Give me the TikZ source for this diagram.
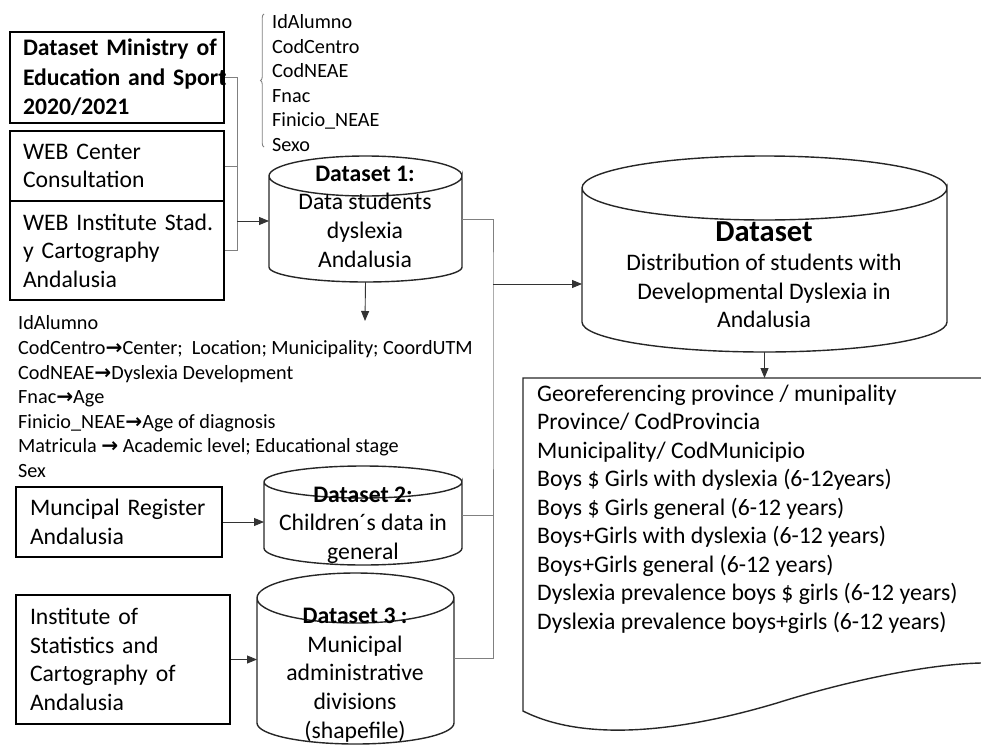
\documentclass[tikz,border=0pt]{standalone}
\usepackage{fontspec}
\setmainfont{Carlito}
\newfontfamily\arrowfont{DejaVu Sans}
\newcommand{\toarrow}{{\arrowfont\bfseries →}}
\usetikzlibrary{arrows.meta,decorations.pathreplacing}
\tikzset{
	srcbox/.style={draw=black, line width=1.6pt, align=left, inner xsep=13pt, inner ysep=0pt, font=\fontsize{23.7}{28.6}\selectfont},
	dbbody/.style={inner sep=0pt, outer sep=0pt},
	dbline/.style={draw=black!85, line width=1.4pt},
	dbtext/.style={align=center, inner sep=0pt, font=\fontsize{23.7}{28.6}\selectfont},
	fields/.style={align=left, inner sep=0pt, font=\fontsize{20.2}{24.6}\selectfont},
	conn/.style={draw=black!50, line width=0.9pt},
	arr/.style={draw=black!80, line width=0.9pt, -{Triangle[length=10pt,width=8pt]}},
}
\begin{document}
\begin{tikzpicture}[x=1pt, y=-1pt]
		\useasboundingbox (0,0) rectangle (981,744);
		\node [srcbox, text width=188pt, minimum height=91pt, font=\fontsize{23.7}{29.5}\selectfont\bfseries] (ministry) at (117, 77.5) {\mbox{Dataset Ministry of}\\\mbox{Education and Sport}\\2020/2021};
		\node [srcbox, text width=188pt, minimum height=70pt] (webcenter) at (117, 166) {WEB Center\\Consultation};
		\node [srcbox, text width=188pt, minimum height=99pt] (webinst) at (117, 250.5) {\mbox{WEB Institute Stad.}\\y Cartography\\Andalusia};
		\node [srcbox, inner xsep=14pt, text width=178pt, minimum height=70pt] (register) at (119, 522) {Muncipal Register\\Andalusia};
		\node [srcbox, inner xsep=14pt, text width=186pt, minimum height=129pt] (institute) at (123, 659.5) {Institute of\\Statistics and\\Cartography of\\Andalusia};
		\node [dbbody, minimum width=193pt, minimum height=126pt] (ds1) at (365.5, 219) {};
		\node [dbbody, minimum width=198pt, minimum height=99pt] (ds2) at (363, 515.5) {};
		\node [dbbody, minimum width=197pt, minimum height=171pt] (ds3) at (355.5, 658.5) {};
		\node [dbbody, minimum width=365pt, minimum height=196pt] (dsall) at (764.5, 254) {};
		\draw[dbline] ([yshift=-20pt]ds1.north west) -- ([yshift=15pt]ds1.south west) arc[start angle=180, end angle=0, x radius=96.5, y radius=15] -- ([yshift=-20pt]ds1.north east) arc[start angle=0, end angle=360, x radius=96.5, y radius=20];
		\draw[dbline] ([yshift=-16pt]ds2.north west) -- ([yshift=17pt]ds2.south west) arc[start angle=180, end angle=0, x radius=99, y radius=17] -- ([yshift=-16pt]ds2.north east) arc[start angle=0, end angle=360, x radius=99, y radius=16];
		\draw[dbline] ([yshift=-25pt]ds3.north west) -- ([yshift=21pt]ds3.south west) arc[start angle=180, end angle=0, x radius=98.5, y radius=21] -- ([yshift=-25pt]ds3.north east) arc[start angle=0, end angle=360, x radius=98.5, y radius=25];
		\draw[dbline] ([yshift=-32pt]dsall.north west) -- ([yshift=30pt]dsall.south west) arc[start angle=180, end angle=0, x radius=182.5, y radius=30] -- ([yshift=-32pt]dsall.north east) arc[start angle=0, end angle=360, x radius=182.5, y radius=32];
		\node [dbtext] (ds1text) at (365, 216.5) {\textbf{Dataset 1:}\\Data students\\dyslexia\\Andalusia};
		\node [dbtext] (ds2text) at (363, 525) {\textbf{Dataset 2:}\\Children´s data in\\general};
		\node [dbtext] (ds3text) at (355, 675) {\textbf{Dataset 3 :}\\Municipal\\administrative\\divisions\\(shapefile)};
		\node [dbtext] (dsalltext) at (764, 275) {{\fontsize{30.5}{33}\selectfont\bfseries Dataset}\\Distribution of students with\\Developmental Dyslexia in\\Andalusia};
		\node [fields, anchor=west] (rawfields) at (272, 83) {IdAlumno\\CodCentro\\CodNEAE\\Fnac\\Finicio\_NEAE\\Sexo};
		\node [fields, anchor=west] (newfields) at (18, 396.7) {IdAlumno\\CodCentro\toarrow Center;\ \ Location; Municipality; CoordUTM\\CodNEAE\toarrow Dyslexia Development\\Fnac\toarrow Age\\Finicio\_NEAE\toarrow Age of diagnosis\\Matricula \toarrow{} Academic level; Educational stage\\Sex};
		\node [fields, anchor=west, font=\fontsize{23.7}{28.5}\selectfont] (outfields) at (537, 509) {Georeferencing province / munipality\\Province/ CodProvincia\\Municipality/ CodMunicipio\\Boys \$ Girls with dyslexia (6-12years)\\Boys \$ Girls general (6-12 years)\\Boys+Girls with dyslexia (6-12 years)\\Boys+Girls general (6-12 years)\\Dyslexia prevalence boys \$ girls (6-12 years)\\Dyslexia prevalence boys+girls (6-12 years)};
		\coordinate (busL) at (237, 221);
		\coordinate (busR) at (493, 284);
		\coordinate (fieldshead) at (365, 321);
		\coordinate (doctop) at (764.5, 378);
		\draw[conn] (ministry.east) -- ++(13,0) |- (webinst.east);
		\draw[conn] (webcenter.east) -- ++(13,0);
		\draw[arr] (busL) -- (busL -| ds1.west);
		\draw[arr] (register.east) -- (register.east -| ds2.west);
		\draw[arr] (institute.east) -- (institute.east -| ds3.west);
		\draw[conn] (ds1.east) -| (busR) |- (ds3.east);
		\draw[conn] (ds2.east) -- (ds2.east -| busR);
		\draw[arr] (busR) -- (busR -| dsall.west);
		\draw[arr] (ds1.south) -- (fieldshead);
		\draw[arr] (dsall.south) -- (doctop);
		\draw[conn, decorate, decoration={brace, amplitude=3.5pt}] (264,147) -- (264,14);
		\draw[line width=1.4pt, draw=black!85] (981,378) -- (523,378) -- (523,711) .. controls (600,750) and (720,720) .. (777,703) .. controls (850,680) and (930,664) .. (981,663);
\end{tikzpicture}
\end{document}
